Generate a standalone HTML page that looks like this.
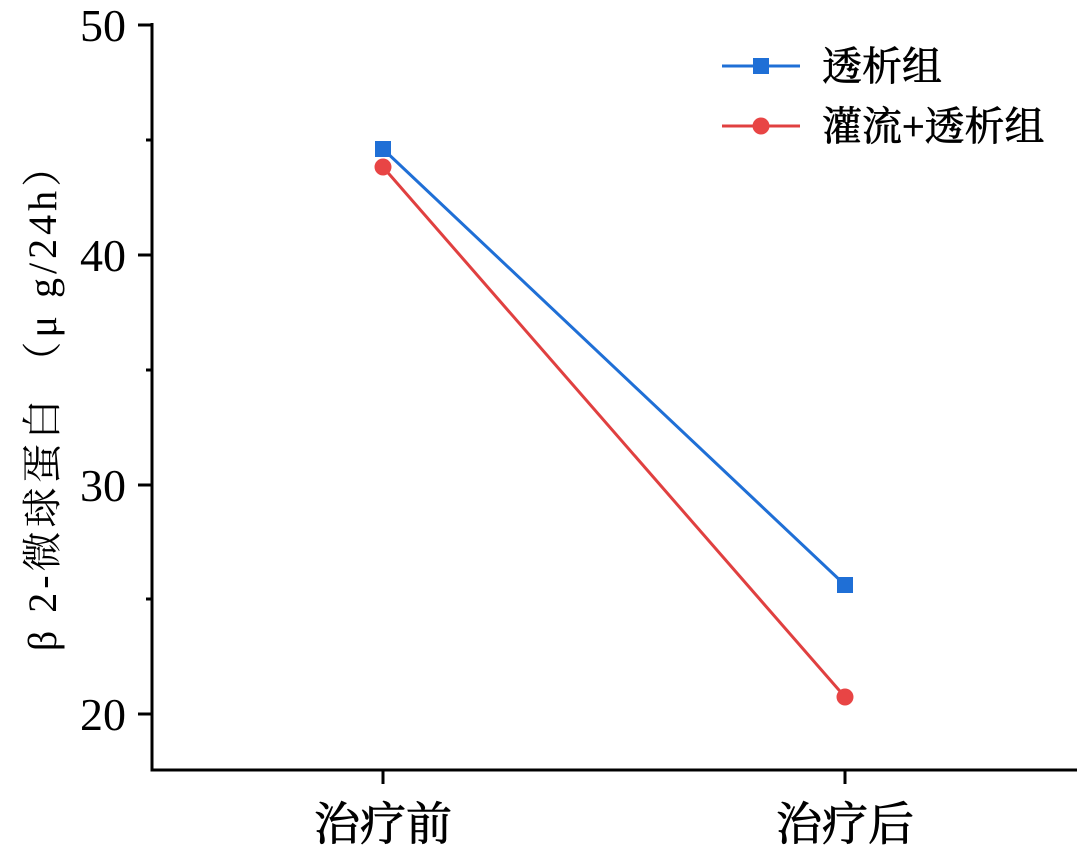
<!DOCTYPE html>
<html><head><meta charset="utf-8"><style>
html,body{margin:0;padding:0;background:#fff;}
svg{display:block;}
.t{font-family:"Liberation Serif",serif;fill:#000;}
.c{font-family:"Liberation Serif","Noto Serif CJK SC",serif;fill:#000;}
</style></head><body>
<svg width="1080" height="848" viewBox="0 0 1080 848" xmlns="http://www.w3.org/2000/svg">
<g stroke="#000" stroke-width="3" fill="none">
<line x1="152" y1="23" x2="152" y2="771"/>
<line x1="150.5" y1="770" x2="1077" y2="770"/>
<line x1="138" y1="25" x2="152" y2="25"/>
<line x1="138" y1="255" x2="152" y2="255"/>
<line x1="138" y1="485" x2="152" y2="485"/>
<line x1="138" y1="714" x2="152" y2="714"/>
<line x1="146" y1="140" x2="152" y2="140"/>
<line x1="146" y1="370" x2="152" y2="370"/>
<line x1="146" y1="599" x2="152" y2="599"/>
<line x1="383" y1="770" x2="383" y2="784"/>
<line x1="845" y1="770" x2="845" y2="784"/>
</g>
<g class="t" font-size="46" text-anchor="end">
<text x="126" y="41">50</text>
<text x="126" y="271">40</text>
<text x="126" y="501">30</text>
<text x="126" y="730">20</text>
</g>
<g class="c" font-size="46" text-anchor="middle" stroke="#000" stroke-width="0.8">
<text x="383" y="840">治疗前</text>
<text x="845" y="840">治疗后</text>
</g>
<text class="c" font-size="40" letter-spacing="4" text-anchor="middle" transform="translate(56,397) rotate(-90)">β 2-微球蛋白 （μ g/24h）</text>
<line x1="383" y1="149" x2="845" y2="585" stroke="#1f6fd6" stroke-width="3"/>
<line x1="383" y1="167" x2="845" y2="697" stroke="#e04040" stroke-width="3"/>
<rect x="375" y="141" width="16" height="16" fill="#1f6fd6"/>
<rect x="837" y="577" width="16" height="16" fill="#1f6fd6"/>
<circle cx="383" cy="167" r="8.5" fill="#e84545"/>
<circle cx="845" cy="697" r="8.5" fill="#e84545"/>
<line x1="722" y1="66" x2="800" y2="66" stroke="#1f6fd6" stroke-width="3"/>
<rect x="753" y="58" width="16" height="16" fill="#1f6fd6"/>
<line x1="722" y1="126" x2="800" y2="126" stroke="#e04040" stroke-width="3"/>
<circle cx="761" cy="126" r="8.5" fill="#e84545"/>
<g class="c" font-size="40" stroke="#000" stroke-width="0.7">
<text x="822" y="80">透析组</text>
<text x="822" y="140">灌流+透析组</text>
</g>
</svg>
</body></html>
